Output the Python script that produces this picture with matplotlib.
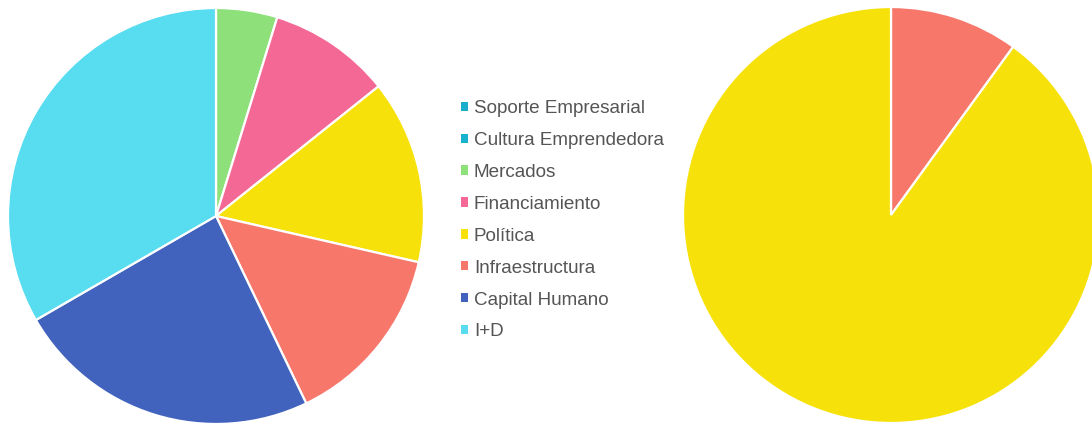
import matplotlib
matplotlib.use("Agg")
import matplotlib.pyplot as plt
from matplotlib.patches import Patch

plt.rcParams['font.family'] = ['Liberation Sans', 'DejaVu Sans']

categories = ['Soporte Empresarial', 'Cultura Emprendedora', 'Mercados', 'Financiamiento',
              'Política', 'Infraestructura', 'Capital Humano', 'I+D']
colors = ['#1aaecb', '#17b3cc', '#8ee07a', '#f46896', '#f7e10a', '#f7786b', '#4163be', '#57dcf0']

left_values = [0, 0, 1, 2, 3, 3, 5, 7]

# right pie drawn clockwise from the top in this order
right_labels = ['Infraestructura', 'Política']
right_values = [1, 9]

col = dict(zip(categories, colors))

fig = plt.figure(figsize=(10.92, 4.23), dpi=100)
W, H = 1092, 423

def pie_axes(cx, cy, r):
    # cx, cy in pixels from top-left
    return fig.add_axes([(cx - r) / W, (H - cy - r) / H, 2 * r / W, 2 * r / H])

wedge_style = dict(edgecolor='white', linewidth=1.6)

ax1 = pie_axes(216, 216, 208)
lv = [v for v in left_values if v > 0]
lc = [c for c, v in zip(colors, left_values) if v > 0]
ax1.pie(lv, colors=lc, startangle=90, counterclock=False, radius=1,
        wedgeprops=wedge_style)
ax1.set_xlim(-1, 1)
ax1.set_ylim(-1, 1)
ax1.axis('off')

ax2 = pie_axes(891, 215, 208)
ax2.pie(right_values, colors=[col[l] for l in right_labels], startangle=90,
        counterclock=False, radius=1, wedgeprops=wedge_style)
ax2.set_xlim(-1, 1)
ax2.set_ylim(-1, 1)
ax2.axis('off')

handles = [Patch(facecolor=c, edgecolor='none', label=l) for l, c in zip(categories, colors)]
fig.legend(handles=handles, loc='upper left', bbox_to_anchor=(461 / W, 1 - 100 / H),
           frameon=False, fontsize=13.6, labelcolor='#555555',
           handlelength=0.38, handleheight=0.38, handletextpad=0.3,
           labelspacing=0.79, borderaxespad=0, borderpad=0)

fig.savefig('out.png', dpi=100)
